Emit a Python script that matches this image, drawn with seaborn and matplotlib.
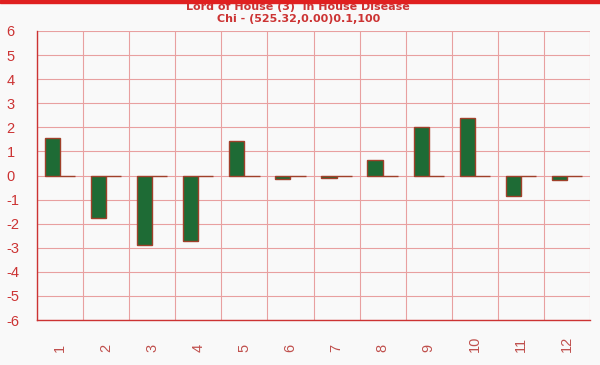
import matplotlib
matplotlib.use("Agg")
import matplotlib.pyplot as plt
import seaborn as sns
import pandas as pd
import numpy as np
from matplotlib.patches import Rectangle

categories = ["1", "2", "3", "4", "5", "6", "7", "8", "9", "10", "11", "12"]
values = [1.55, -1.78, -2.9, -2.7, 1.45, -0.14, -0.1, 0.66, 2.03, 2.37, -0.87, -0.2]
second = [0, 0, 0, 0, 0, 0, 0, 0, 0, 0, 0, 0]
yticks = [-6, -5, -4, -3, -2, -1, 0, 1, 2, 3, 4, 5, 6]
title_lines = ["Lord of House (3)  in House Disease", "Chi - (525.32,0.00)0.1,100"]

df = pd.DataFrame({
    "cat": categories * 2,
    "val": values + second,
    "series": ["A"] * len(categories) + ["B"] * len(categories),
})

sns.set_theme(style="white")
plt.rcParams["font.family"] = ["Liberation Sans", "DejaVu Sans"]

bg = "#f9f9f9"
red = "#cc3333"
fig = plt.figure(figsize=(6, 3.65), dpi=100, facecolor=bg)
ax = fig.add_axes([37 / 600, 45 / 365, 553 / 600, 289 / 365])
ax.set_facecolor(bg)

sns.barplot(data=df, x="cat", y="val", hue="series", order=categories,
            palette={"A": "#1e6b35", "B": "#b04040"}, width=0.66,
            edgecolor="#a0402a", linewidth=1.0, legend=False, ax=ax,
            errorbar=None, saturation=1)

ax.set_ylim(-6, 6)
ax.set_xlim(-0.5, len(categories) - 0.5)
ax.set_yticks(yticks)
ax.set_yticklabels([str(t) for t in yticks])
ax.set_xticks(range(len(categories)))
ax.set_xticklabels(categories, rotation=90)
ax.set_xticks(np.arange(-0.5, len(categories), 1.0), minor=True)
ax.grid(False)
ax.grid(True, which="minor", axis="x", color="#e8a0a0", linewidth=0.8)
ax.grid(True, which="major", axis="y", color="#e8a0a0", linewidth=0.8)
ax.set_axisbelow(True)
ax.set_xlabel("")
ax.set_ylabel("")

for s in ["top", "right"]:
    ax.spines[s].set_visible(False)
for s in ["left", "bottom"]:
    ax.spines[s].set_color(red)
    ax.spines[s].set_linewidth(1.0)

ax.tick_params(axis="y", which="major", length=0, pad=22, labelsize=10.5, labelcolor=red)
for lbl in ax.get_yticklabels():
    lbl.set_horizontalalignment("left")
ax.tick_params(axis="x", which="major", length=0, pad=23, labelsize=10.5, labelcolor="#c0504d")
for lbl in ax.get_xticklabels():
    lbl.set_verticalalignment("bottom")
ax.tick_params(axis="x", which="minor", length=0)

fig.text(0.497, 1 - 10.5 / 365, title_lines[0], ha="center", va="baseline", fontsize=8,
         fontweight="bold", color=red, family="DejaVu Sans")
fig.text(0.497, 1 - 22.5 / 365, title_lines[1], ha="center", va="baseline", fontsize=8,
         fontweight="bold", color=red, family="DejaVu Sans")
fig.add_artist(Rectangle((0, 1 - 2.5 / 365), 1, 2.5 / 365, transform=fig.transFigure,
                         color="#e02020", zorder=10))

fig.savefig("out.png", dpi=100, facecolor=bg)
